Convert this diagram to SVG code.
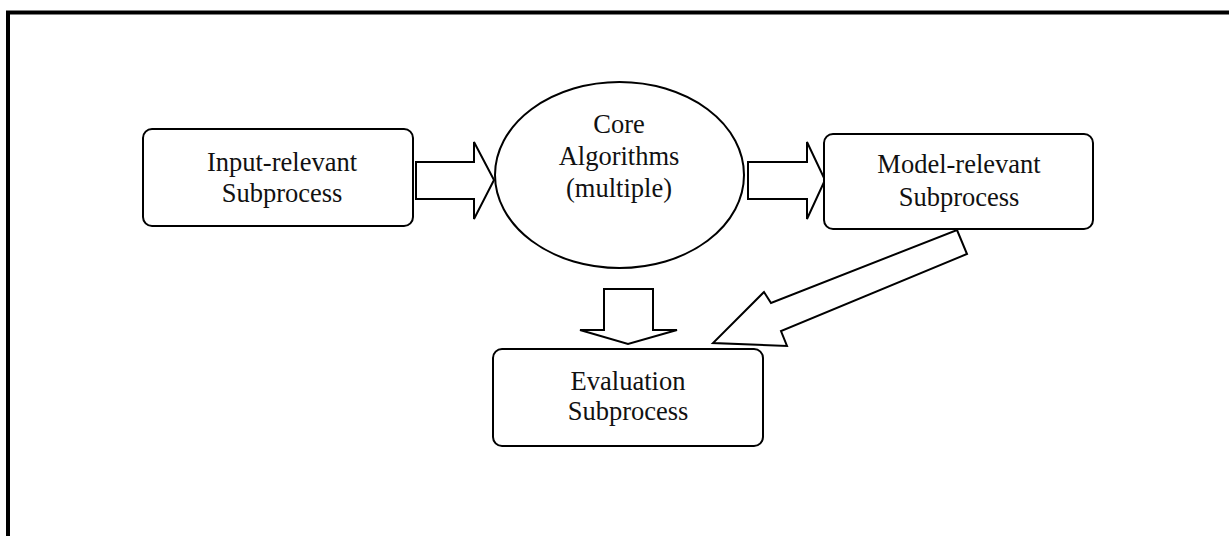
<svg xmlns="http://www.w3.org/2000/svg" width="1229" height="536" viewBox="0 0 1229 536">
  <style>
    .frame { fill: none; stroke: #000; stroke-width: 4; }
    .shape { fill: #fff; stroke: #000; stroke-width: 2; stroke-linejoin: miter; }
    .label { font-family: "Liberation Serif", "Times New Roman", serif; font-size: 26.5px; fill: #111; text-anchor: middle; }
  </style>
  <rect width="1229" height="536" fill="#fff"/>

  <!-- page frame: left and top edges -->
  <path class="frame" d="M8 536 V12.5 H1229"/>

  <!-- block arrows between stages -->
  <g id="connectors">
    <polygon class="shape" points="416,162 474,162 474,142 494,180 474,219 474,199 416,199"/>
    <polygon class="shape" points="748,162 807,162 807,142 825,180 807,219 807,199 748,199"/>
    <polygon class="shape" points="604,289 653,289 653,330 677,330 628,344 580,330 604,330"/>
    <polygon class="shape" points="957,230 967,254 781,331 787,346 713,343 764,292 771,303"/>
  </g>

  <g id="input-subprocess">
    <rect class="shape" x="143" y="129" width="270" height="97" rx="9" ry="9"/>
    <text class="label" x="282" y="171">Input-relevant</text>
    <text class="label" x="282" y="202">Subprocess</text>
  </g>

  <g id="core-algorithms">
    <ellipse class="shape" cx="619.5" cy="175" rx="124.5" ry="93"/>
    <text class="label" x="619" y="133">Core</text>
    <text class="label" x="619" y="165">Algorithms</text>
    <text class="label" x="619" y="197">(multiple)</text>
  </g>

  <g id="model-subprocess">
    <rect class="shape" x="824" y="134" width="269" height="95" rx="9" ry="9"/>
    <text class="label" x="959" y="173">Model-relevant</text>
    <text class="label" x="959" y="206">Subprocess</text>
  </g>

  <g id="evaluation-subprocess">
    <rect class="shape" x="493" y="349" width="270" height="97" rx="9" ry="9"/>
    <text class="label" x="628" y="390">Evaluation</text>
    <text class="label" x="628" y="420">Subprocess</text>
  </g>
</svg>
